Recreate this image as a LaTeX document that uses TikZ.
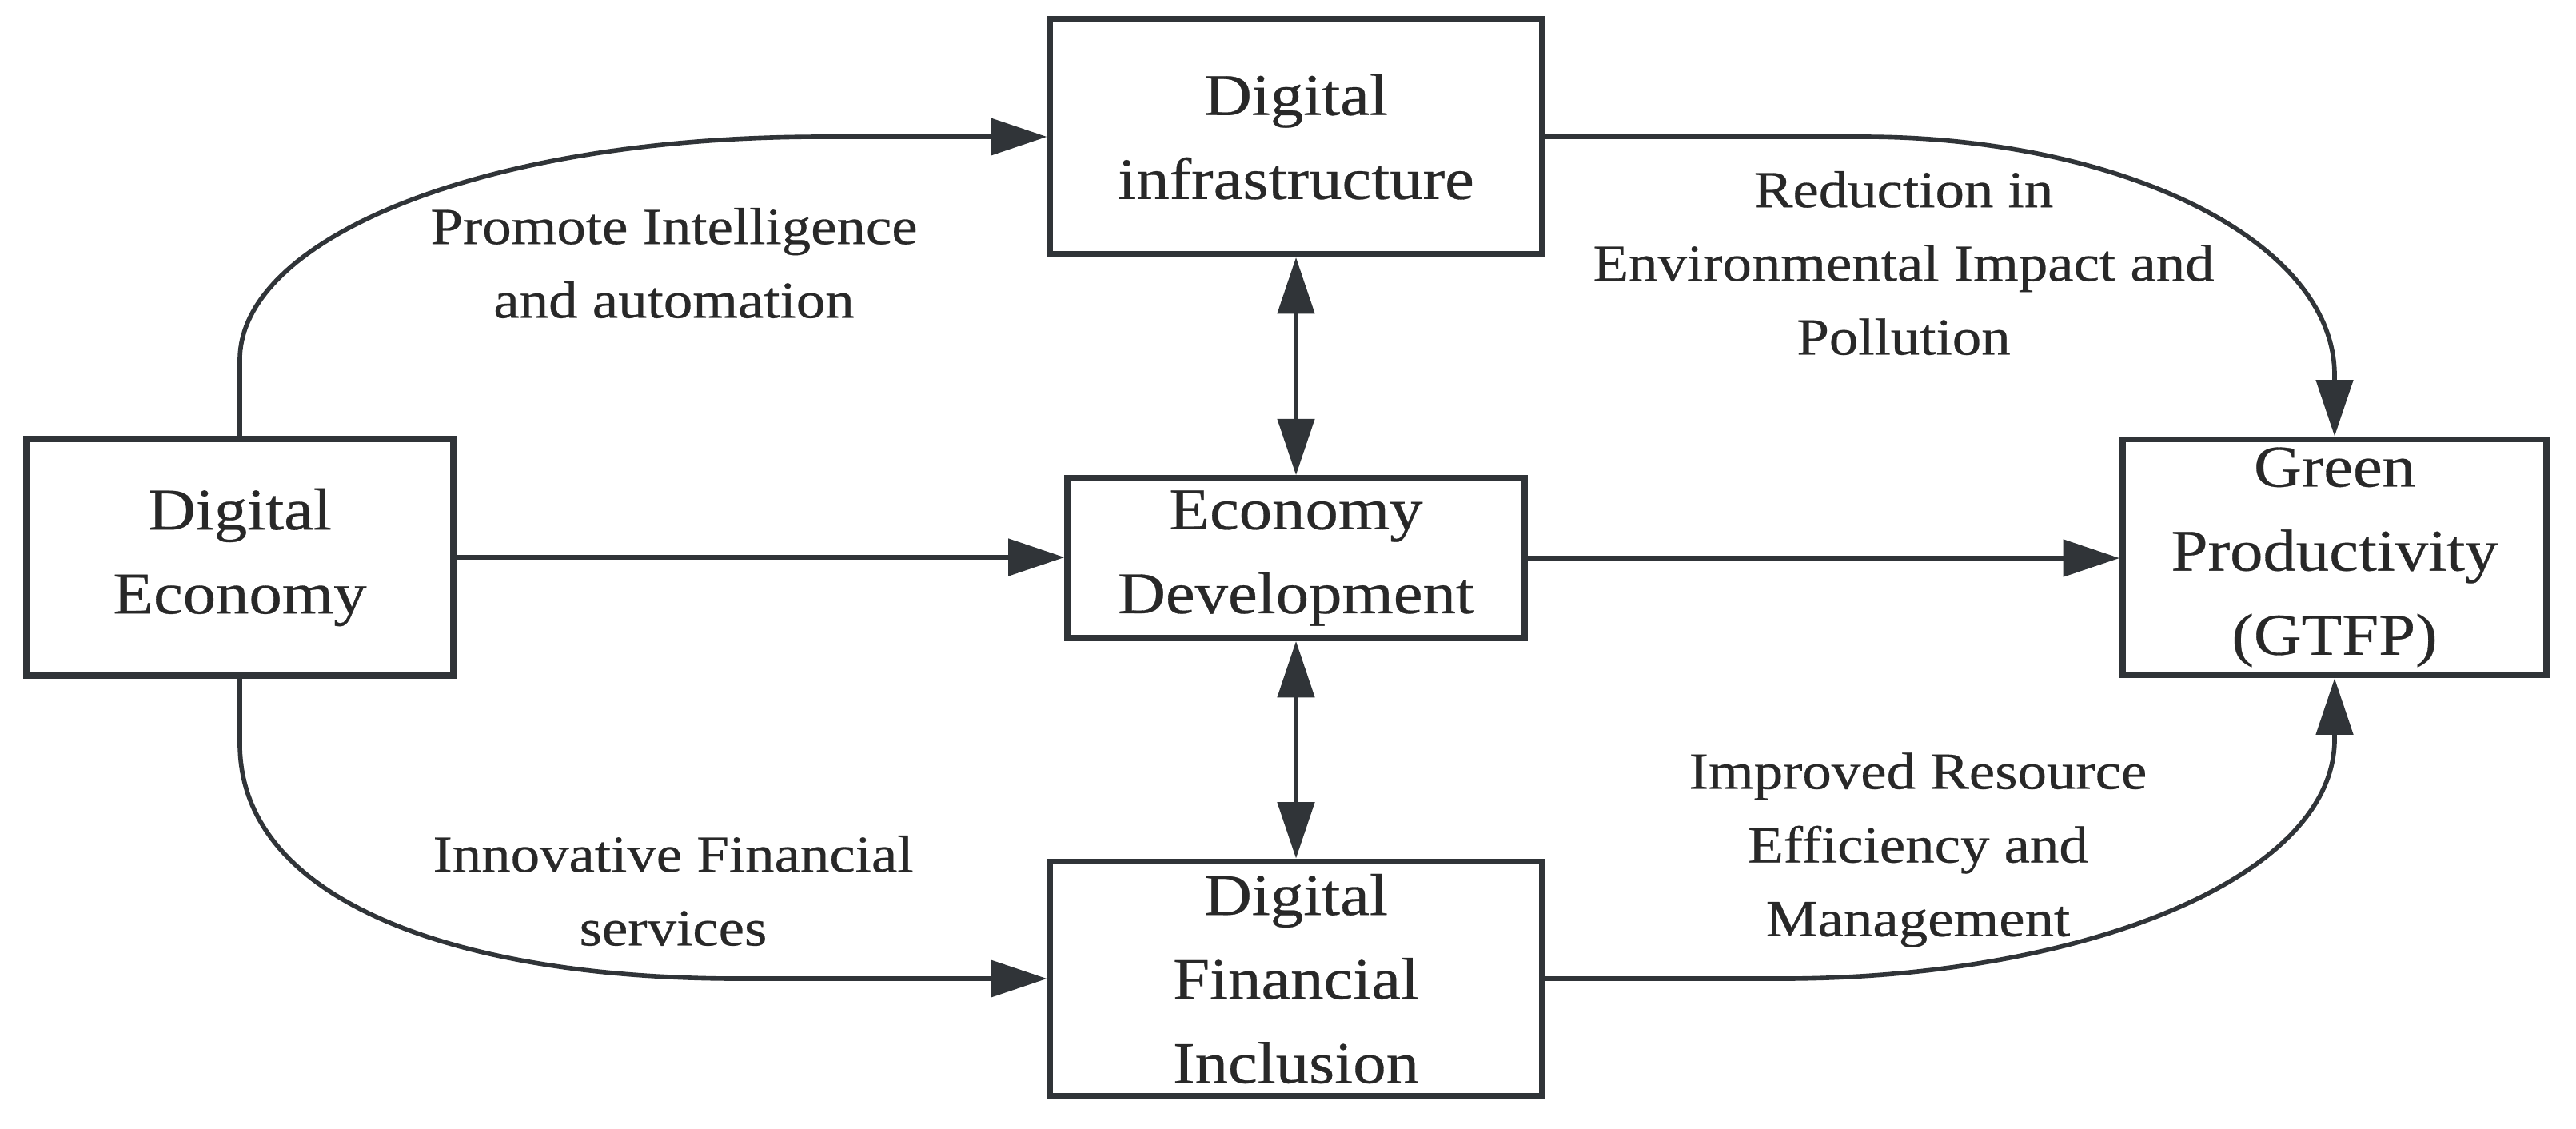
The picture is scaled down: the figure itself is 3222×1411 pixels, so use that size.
\documentclass[tikz,border=0pt]{standalone}
\usepackage{fontspec}
\setmainfont{Liberation Serif}[FakeStretch=1.12,FakeBold=0.4]
\usetikzlibrary{arrows.meta,calc}
\definecolor{ln}{RGB}{48,52,56}
\definecolor{tx}{RGB}{40,40,40}
\begin{document}
\begin{tikzpicture}[x=0.01cm,y=-0.01cm,
  box/.style={draw=ln, line width=2.2pt, fill=white, text=tx, align=center, inner sep=0pt,
              font=\fontsize{21}{29.9}\selectfont},
  lbl/.style={text=tx, align=center, inner sep=0pt, font=\fontsize{18.5}{26.2}\selectfont},
  conn/.style={draw=ln, line width=1.6pt, -{Triangle[length=20pt,width=13pt]}},
  dconn/.style={draw=ln, line width=1.6pt, {Triangle[length=20pt,width=13pt]}-{Triangle[length=20pt,width=13pt]}}]
\useasboundingbox (0,0) rectangle (3222,1411);
\fill[white] (0,0) rectangle (3222,1411);

\node[box, minimum width=5.33cm, minimum height=2.96cm] (de) at (300,697) {Digital\\Economy};
\node[box, minimum width=6.15cm, minimum height=2.94cm] (di) at (1621,171) {Digital\\infrastructure};
\node[box, minimum width=5.71cm, minimum height=2.00cm] (ed) at (1621,698) {Economy\\Development};
\node[box, minimum width=5.30cm, minimum height=2.95cm] (gp) at (2920,697) {Green\\Productivity\\(GTFP)};
\node[box, minimum width=6.15cm, minimum height=2.93cm] (dfi) at (1621,1224) {Digital\\Financial\\Inclusion};

\draw[conn] (de.east) -- (de.east -| ed.west);
\draw[conn] (ed.east) -- (ed.east -| gp.west);
\draw[dconn] (di.south) -- (ed.north);
\draw[dconn] (ed.south) -- (dfi.north);

\draw[conn] (de.north) -- ($(de.north)+(0,-95)$)
  .. controls ($(de.north)+(0,-245)$) and ($(di.west)+(-710,0)$) .. ($(di.west)+(-280,0)$) -- (di.west);
\draw[conn] (di.east) -- ($(di.east)+(397,0)$)
  .. controls ($(di.east)+(717,0)$) and ($(gp.north)+(0,-246)$) .. ($(gp.north)+(0,-76)$) -- (gp.north);
\draw[conn] (de.south) -- ($(de.south)+(0,81)$)
  .. controls ($(de.south)+(0,281)$) and ($(dfi.west)+(-730,0)$) .. ($(dfi.west)+(-385,0)$) -- (dfi.west);
\draw[conn] (dfi.east) -- ($(dfi.east)+(295,0)$)
  .. controls ($(dfi.east)+(667,0)$) and ($(gp.south)+(0,251)$) .. ($(gp.south)+(0,76)$) -- (gp.south);

\node[lbl] (l1) at (843,329) {Promote Intelligence\\and automation};
\node[lbl] (l2) at (2381,329) {Reduction in\\Environmental Impact and\\Pollution};
\node[lbl] (l3) at (842,1114) {Innovative Financial\\services};
\node[lbl] (l4) at (2399,1063) {Improved Resource\\Efficiency and\\Management};
\end{tikzpicture}
\end{document}
